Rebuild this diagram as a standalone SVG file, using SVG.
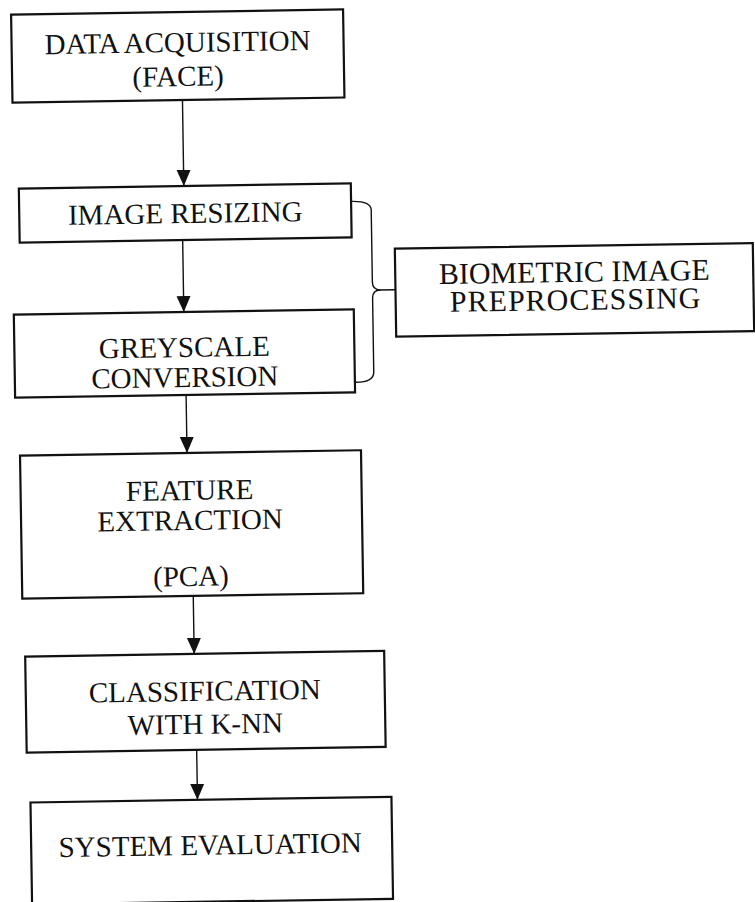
<svg xmlns="http://www.w3.org/2000/svg" width="755" height="902" viewBox="0 0 755 902">
<style>
.box{fill:#fff;stroke:#111;stroke-width:2.2}
.t{font-family:"Liberation Serif","Times New Roman",serif;font-size:29px;fill:#111;text-anchor:middle}
.c{fill:none;stroke:#111;stroke-width:1.4}
</style>
<defs>
<marker id="ah" markerUnits="userSpaceOnUse" markerWidth="16" markerHeight="16" viewBox="0 0 16 16" refX="16" refY="8" orient="auto">
<path d="M0,1 L16,8 L0,15 Z" fill="#111"/>
</marker>
</defs>
<rect width="755" height="902" fill="#fff"/>
<g transform="rotate(-0.9 377 451)">
<g id="connectors">
<line class="c" x1="188" y1="97" x2="188" y2="183" marker-end="url(#ah)"/>
<line class="c" x1="186" y1="237" x2="186" y2="309" marker-end="url(#ah)"/>
<line class="c" x1="187" y1="392" x2="187" y2="450" marker-end="url(#ah)"/>
<line class="c" x1="191" y1="593" x2="191" y2="651" marker-end="url(#ah)"/>
<line class="c" x1="192" y1="747" x2="192" y2="797" marker-end="url(#ah)"/>
<path class="c" d="M356,201 Q375,201 375,210 L375,282 Q375,290 383,290 Q375,290 375,298 L375,372 Q375,382 357,382"/>
<line class="c" x1="382" y1="290" x2="398" y2="290"/>
</g>
<g id="data-acquisition">
<rect class="box" x="18" y="9" width="332" height="88"/>
<text class="t" x="184" y="49">DATA ACQUISITION</text>
<text class="t" x="184" y="83">(FACE)</text>
</g>
<g id="image-resizing">
<rect class="box" x="23" y="183" width="332" height="54"/>
<text class="t" x="189" y="220">IMAGE RESIZING</text>
</g>
<g id="greyscale-conversion">
<rect class="box" x="16" y="309" width="340" height="83"/>
<text class="t" x="186" y="354">GREYSCALE</text>
<text class="t" x="186" y="384">CONVERSION</text>
</g>
<g id="biometric-preprocessing">
<rect class="box" x="398" y="249" width="358" height="88"/>
<text class="t" x="577" y="285" style="font-size:30px">BIOMETRIC IMAGE</text>
<text class="t" x="578" y="313" style="font-size:30px;letter-spacing:1px">PREPROCESSING</text>
</g>
<g id="feature-extraction">
<rect class="box" x="20" y="450" width="341" height="143"/>
<text class="t" x="189" y="497">FEATURE</text>
<text class="t" x="189" y="527">EXTRACTION</text>
<text class="t" x="189" y="583">(PCA)</text>
</g>
<g id="classification">
<rect class="box" x="22" y="651" width="359" height="96"/>
<text class="t" x="201" y="698">CLASSIFICATION</text>
<text class="t" x="201" y="731">WITH K-NN</text>
</g>
<g id="system-evaluation">
<rect class="box" x="25" y="797" width="361" height="102"/>
<text class="t" x="204" y="852">SYSTEM EVALUATION</text>
</g>
</g>
</svg>
